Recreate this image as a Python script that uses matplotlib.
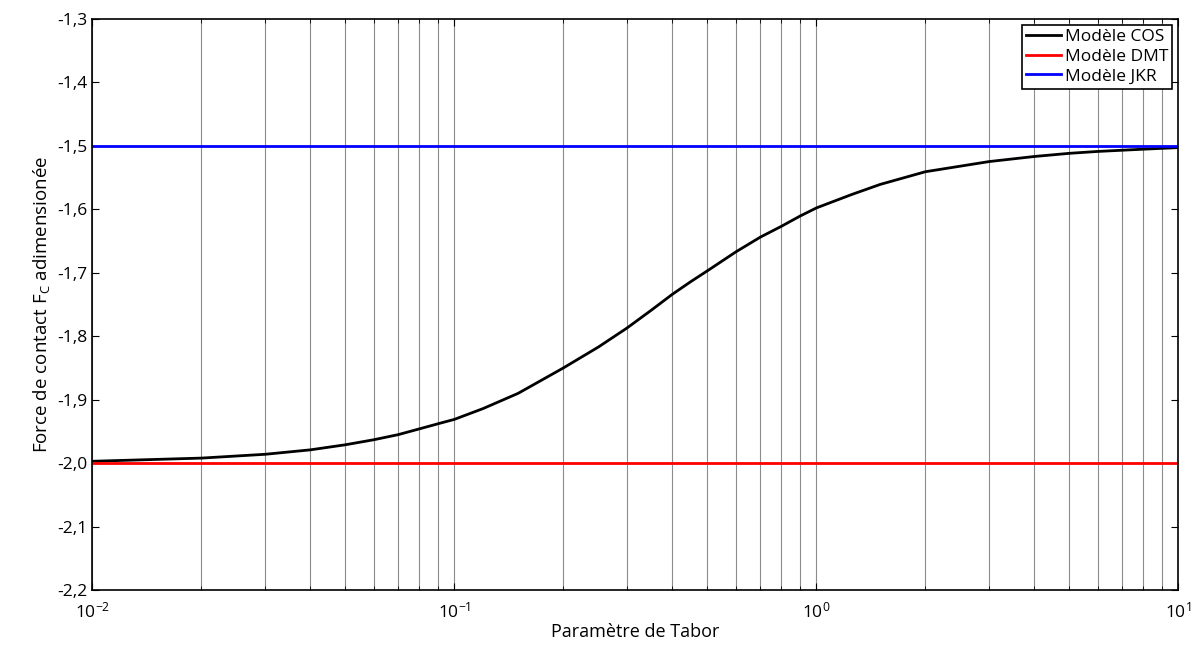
import numpy as np
import matplotlib.pyplot as plt
from matplotlib.ticker import FuncFormatter, LogLocator

plt.rcParams['font.family'] = ['Open Sans', 'DejaVu Sans']
plt.rcParams['axes.unicode_minus'] = False

# Paramètre de Tabor et force de contact (modèle COS)
tabor = [0.01, 0.02, 0.03, 0.04, 0.05, 0.06, 0.07, 0.08, 0.09,
         0.1, 0.12, 0.15, 0.2, 0.25, 0.3, 0.35, 0.4, 0.45, 0.5, 0.6, 0.7, 0.8, 0.9,
         1.0, 1.25, 1.5, 2.0, 3.0, 4.0, 5.0, 6.0, 8.0, 10.0]
force_cos = [-1.997, -1.992, -1.986, -1.979, -1.971, -1.963, -1.955, -1.946, -1.938,
             -1.931, -1.914, -1.890, -1.850, -1.817, -1.787, -1.759, -1.734, -1.714, -1.697,
             -1.667, -1.644, -1.627, -1.611, -1.598, -1.577, -1.561, -1.541, -1.525,
             -1.517, -1.512, -1.509, -1.5055, -1.503]
force_dmt = -2.0
force_jkr = -1.5

fig, ax = plt.subplots(figsize=(12, 6.45), dpi=100)
fig.subplots_adjust(left=0.077, right=0.982, top=0.971, bottom=0.085)

ax.semilogx(tabor, force_cos, color='black', lw=2, label='Modèle COS')
ax.axhline(force_dmt, color='red', lw=2, label='Modèle DMT')
ax.axhline(force_jkr, color='blue', lw=2, label='Modèle JKR')

ax.set_xlim(1e-2, 1e1)
ax.set_ylim(-2.2, -1.3)
ax.set_yticks(np.arange(-2.2, -1.29, 0.1))
ax.yaxis.set_major_formatter(FuncFormatter(lambda v, p: f'{v:.1f}'.replace('.', ',')))
ax.xaxis.set_major_locator(LogLocator(base=10, numticks=10))
ax.xaxis.set_minor_locator(LogLocator(base=10, subs=np.arange(2, 10), numticks=20))

ax.grid(True, which='both', axis='x', color='#8c8c8c', lw=0.8)
ax.tick_params(which='both', direction='in', top=True, right=True, labelsize=12.5)
ax.tick_params(axis='x', pad=8)
ax.tick_params(which='major', length=5)
ax.tick_params(which='minor', length=3)
for s in ax.spines.values():
    s.set_linewidth(1.2)

ax.set_xlabel('Paramètre de Tabor', fontsize=13, labelpad=1)
ax.set_ylabel('Force de contact $\\mathregular{F_C}$ adimensionée', fontsize=13.5)

leg = ax.legend(loc='upper right', fontsize=12.5, fancybox=False, framealpha=1,
                edgecolor='black', handlelength=2.0, handletextpad=0.2,
                borderpad=0.25, labelspacing=0.2, borderaxespad=0.35)
leg.get_frame().set_linewidth(1.2)

fig.savefig('out.png')
